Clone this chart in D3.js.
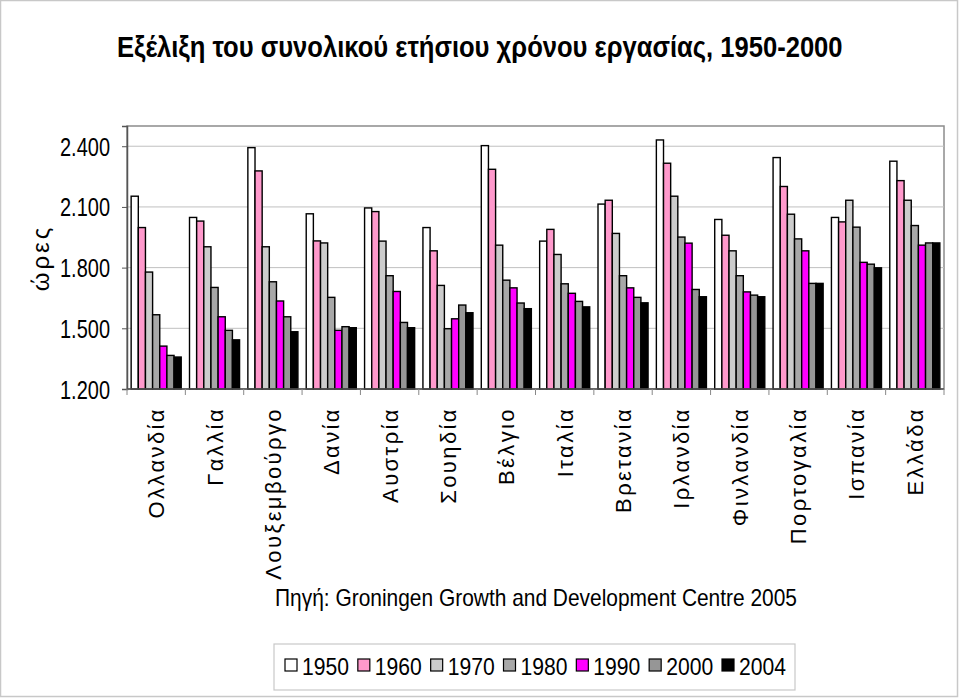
<!DOCTYPE html>
<html><head><meta charset="utf-8">
<script src="https://cdn.jsdelivr.net/npm/d3@7"></script>
<style>html,body{margin:0;padding:0;background:#fff}svg{display:block}text{font-family:"Liberation Sans",Arial,sans-serif}</style>
</head><body><svg id="c" width="959" height="698"></svg>
<script>
const countries = ["Ολλανδία","Γαλλία","Λουξεμβούργο","Δανία","Αυστρία","Σουηδία","Βέλγιο","Ιταλία","Βρετανία","Ιρλανδία","Φινλανδία","Πορτογαλία","Ισπανία","Ελλάδα"];
const years = ["1950","1960","1970","1980","1990","2000","2004"];
const v1950 = [2153,2048,2393,2066,2095,1998,2403,1931,2114,2431,2038,2344,2048,2326];
const v1960 = [1998,2030,2278,1932,2077,1883,2286,1989,2133,2316,1960,2201,2026,2230];
const v1970 = [1778,1903,1903,1922,1931,1712,1911,1865,1969,2153,1883,2064,2133,2133];
const v1980 = [1567,1702,1730,1653,1760,1498,1738,1720,1760,1951,1760,1942,2000,2008];
const v1990 = [1412,1557,1635,1490,1682,1547,1700,1673,1700,1921,1680,1883,1826,1911];
const v2000 = [1366,1490,1557,1508,1529,1615,1625,1633,1653,1692,1664,1722,1817,1922];
const v2004 = [1358,1443,1483,1503,1503,1577,1597,1606,1626,1656,1656,1722,1799,1922];
const yTicks = [1200,1500,1800,2100,2400];
const yTickLabels = ["1.200","1.500","1.800","2.100","2.400"];
const colors = ["#ffffff","#ff99cc","#cccccc","#a8a8a8","#ff00ff","#969696","#000000"];
const series = [v1950,v1960,v1970,v1980,v1990,v2000,v2004];

const svg = d3.select("#c");
function fit(sel, w){ sel.attr("textLength", w).attr("lengthAdjust","spacingAndGlyphs"); }

// outer border
svg.append("rect").attr("x",0.5).attr("y",0.5).attr("width",957).attr("height",696)
  .attr("fill","#fff").attr("stroke","#c8c8c8").attr("stroke-width",1.5);

// title (horizontally condensed to the reference width)
const title = svg.append("text").attr("x",0).attr("y",0).attr("font-size",29).attr("font-weight","bold")
  .text("Εξέλιξη του συνολικού ετήσιου χρόνου εργασίας, 1950-2000");
const tw = title.node().getComputedTextLength();
title.attr("transform",`translate(117,57) scale(${Math.min(1,726/tw)},1)`);

const L=127, R=944, T=126, B=389;
const x = d3.scaleBand().domain(countries).range([L,R]).padding(0);
const xi = d3.scaleBand().domain(years).range([0,x.bandwidth()]).paddingInner(0).paddingOuter(0.58);
const y = d3.scaleLinear().domain([1200,2500]).range([B,T]);

// plot frame
svg.append("rect").attr("x",L).attr("y",T).attr("width",R-L).attr("height",B-T)
  .attr("fill","none").attr("stroke","#8c8c8c").attr("stroke-width",1.5);

// gridlines
svg.append("g").selectAll("line").data(yTicks.slice(1)).join("line")
  .attr("x1",L).attr("x2",R).attr("y1",d=>y(d)).attr("y2",d=>y(d))
  .attr("stroke","#c0c0c0").attr("stroke-width",1);

// bars
const g = svg.append("g");
series.forEach((vals,si)=>{
  g.append("g").selectAll("rect").data(vals).join("rect")
    .attr("x",(d,i)=>x(countries[i])+xi(years[si]))
    .attr("y",d=>y(d))
    .attr("width",xi.bandwidth())
    .attr("height",d=>B-y(d))
    .attr("fill",colors[si]).attr("stroke","#000").attr("stroke-width",1.4);
});

// y axis
const ya = svg.append("g").attr("transform",`translate(${L},0)`)
  .call(d3.axisLeft(y).tickValues(yTicks).tickFormat((d,i)=>yTickLabels[i]).tickSize(5).tickPadding(12));
ya.select(".domain").attr("stroke","#555").attr("stroke-width",1.5);
ya.selectAll(".tick line").attr("stroke","#555");
ya.selectAll("text").attr("font-size",25).attr("fill","#000").attr("dy","0.36em")
  .attr("font-family","'Liberation Sans',Arial,sans-serif").each(function(){ d3.select(this).call(fit,50); });

// x axis
const xa = svg.append("g").attr("transform",`translate(0,${B})`);
xa.append("line").attr("x1",L).attr("x2",R).attr("stroke","#555").attr("stroke-width",1.5);
const bounds = countries.map(c=>x(c)).concat([R]);
xa.selectAll(".tk").data(bounds).join("line").attr("class","tk")
  .attr("x1",d=>d).attr("x2",d=>d).attr("y1",0).attr("y2",6).attr("stroke","#888");
xa.selectAll(".lbl").data(countries).join("text").attr("class","lbl")
  .attr("transform",d=>`translate(${x(d)+x.bandwidth()/2+8},18) rotate(-90)`)
  .attr("text-anchor","end").attr("font-size",22).attr("letter-spacing","2.4px")
  .text(d=>d);

// y axis title
svg.append("text").attr("transform","translate(49,258) rotate(-90)").attr("text-anchor","middle")
  .attr("font-size",24).attr("letter-spacing","3px").text("ώρες");

// source
svg.append("text").attr("x",275).attr("y",606).attr("font-size",24)
  .text("Πηγή: Groningen Growth and Development Centre 2005").call(fit,522);

// legend
const lg = svg.append("g");
lg.append("rect").attr("x",274).attr("y",644).attr("width",521).attr("height",46)
  .attr("fill","#fff").attr("stroke","#c8c8c8").attr("stroke-width",1.2);
const lx = d3.scalePoint().domain(years).range([285,722]);
const items = lg.selectAll("g").data(years).join("g").attr("transform",d=>`translate(${lx(d)},0)`);
items.append("rect").attr("x",0).attr("y",659).attr("width",12).attr("height",12)
  .attr("fill",(d,i)=>colors[i]).attr("stroke","#000").attr("stroke-width",1.2);
items.append("text").attr("x",17).attr("y",675).attr("font-size",24).text(d=>d).each(function(){d3.select(this).call(fit,47);});
</script></body></html>
